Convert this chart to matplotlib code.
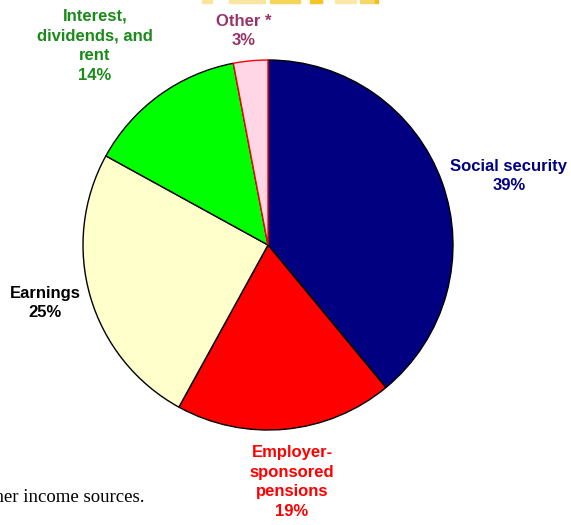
import matplotlib.pyplot as plt
from matplotlib.patches import Rectangle

# Income shares, clockwise from 12 o'clock
labels = ['Social security', 'Employer-\nsponsored\npensions', 'Earnings',
          'Interest,\ndividends, and\nrent', 'Other *']
shares = [39, 19, 25, 14, 3]
colors = ['#000080', '#FF0000', '#FFFFCC', '#00FF00', '#FFD6E6']
label_colors = ['#000080', '#FF0000', '#000000', '#1A8A1A', '#993366']
# label centres in pixels (x, y from top)
label_pos = [(509, 176), (292, 482), (45, 303), (95, 46), (244, 31)]

W, H = 571, 525
fig = plt.figure(figsize=(W / 100, H / 100), dpi=100)

cx, cy, r = 268, 245, 185
ax = fig.add_axes([(cx - r) / W, (H - cy - r) / H, 2 * r / W, 2 * r / H])
wedges, _ = ax.pie(shares, colors=colors, startangle=90, counterclock=False,
                   radius=1.0, wedgeprops=dict(edgecolor='black', linewidth=1.0))
# the small slice is outlined in red
wedges[4].set_edgecolor('#FF0000')
wedges[4].set_zorder(5)
ax.set_xlim(-1.0, 1.0)
ax.set_ylim(-1.0, 1.0)
ax.set_aspect('equal')
ax.axis('off')

for lab, val, col, (px, py) in zip(labels, shares, label_colors, label_pos):
    fig.text(px / W, 1 - py / H, f'{lab}\n{val}%', color=col, fontsize=12,
             fontweight='bold', family='Liberation Sans', ha='center', va='center',
             linespacing=1.4)

# trailing text of the footnote
fig.text(145 / W, 1 - 497 / H, 'other income sources.', ha='right', va='center',
         fontsize=13.5, family='Liberation Serif', color='black')

# bits of a banner along the top edge
for x0, x1, c in [(202, 212, '#FCE49A'), (229, 265, '#FAE6A0'), (270, 300, '#F5D55A'),
                  (310, 322, '#F2C624'), (335, 356, '#FBE8A8'), (360, 375, '#F5D868'),
                  (375, 378, '#F0C020')]:
    fig.patches.append(Rectangle((x0 / W, 1 - 3 / H), (x1 - x0) / W, 3 / H,
                                 transform=fig.transFigure, color=c, zorder=0))

fig.savefig('out.png', dpi=100)
